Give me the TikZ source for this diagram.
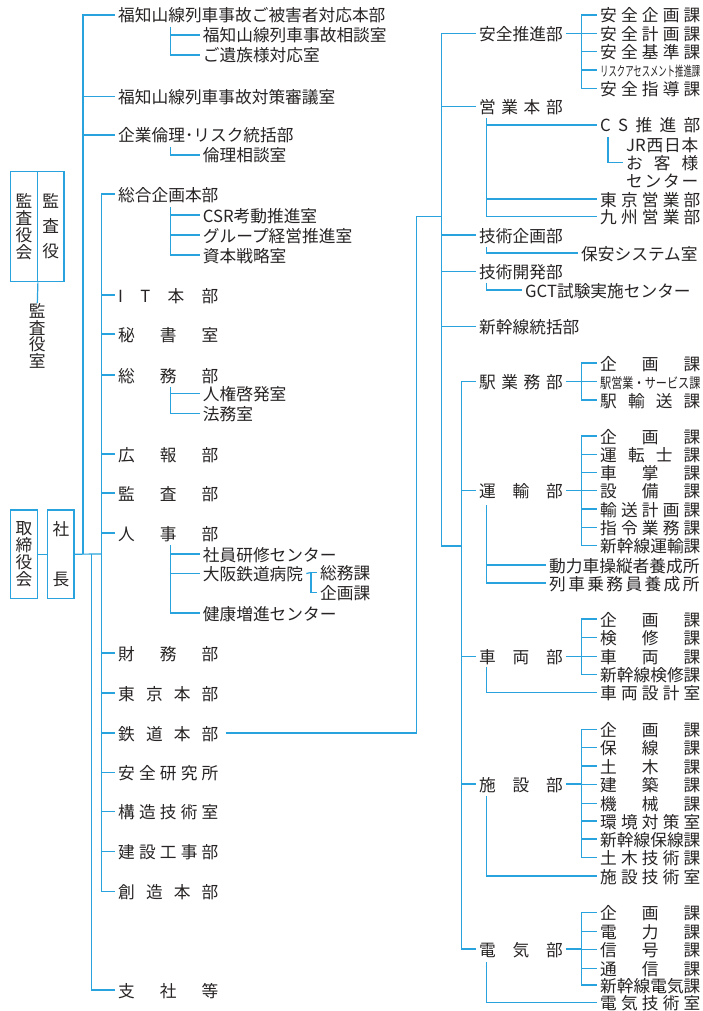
\documentclass[tikz,border=0pt]{standalone}
\usepackage{fontspec}
\usepackage{graphicx}
\newfontfamily\jp{Noto Sans CJK JP}
\definecolor{lc}{RGB}{40,163,222}
\definecolor{tc}{RGB}{40,36,36}
\newcommand{\jpf}{\jp\fontsize{16.7}{18}\selectfont}
\newcommand{\spr}[2]{\makebox[#1][s]{#2}}
\begin{document}
\begin{tikzpicture}[x=1pt,y=-1pt,
 ln/.style={draw=lc,line width=1.2pt},
 tx/.style={anchor=west,inner xsep=3pt,inner ysep=0pt,text=tc,font=\jpf,text height=15pt,text depth=1pt},
 vb/.style={draw=lc,line width=1.2pt,inner sep=0pt,text=tc,align=center}]
\fill[white] (0,0) rectangle (702,1011);
\useasboundingbox (0,0) rectangle (702,1011);

% ---------- left boxes ----------
\node[vb,minimum width=26.6pt,minimum height=110pt,font=\jp\fontsize{16.7}{17}\selectfont] (kL) at (24,226.7) {監\\査\\役\\会};
\node[vb,minimum width=26.7pt,minimum height=110pt,font=\jp\fontsize{16.7}{25}\selectfont] (kR) at (50.65,226.7) {監\\査\\役};
\node[vb,draw=none,font=\jp\fontsize{16.7}{16.5}\selectfont] (ksh) at (37.3,336) {監\\査\\役\\室};
\draw[ln] (kL.south east) -- (ksh.north);
\node[vb,minimum width=26.6pt,minimum height=88.3pt,font=\jp\fontsize{16.7}{17}\selectfont] (tori) at (24,554.2) {取\\締\\役\\会};
\node[vb,minimum width=26.3pt,minimum height=88.3pt,font=\jp\fontsize{16.7}{50}\selectfont] (sha) at (60.85,554.2) {社\\長};
\draw[ln] (tori.east) -- (sha.west);

% ---------- left trunk ----------
\coordinate (J0) at (83,554);
\coordinate (J2) at (91.7,554);
\coordinate (J1) at (101.7,554);
\draw[ln] (sha.east) -- (J1);

% top group
\node[tx] (fk) at (115,15) {福知山線列車事故ご被害者対応本部};
\node[tx] (fk1) at (199.7,35) {福知山線列車事故相談室};
\node[tx] (fk2) at (199.7,55) {ご遺族様対応室};
\node[tx] (fs) at (115,96.5) {福知山線列車事故対策審議室};
\node[tx] (kr) at (115,135) {企業倫理･リスク統括部};
\node[tx] (kr1) at (199.7,155) {倫理相談室};
\coordinate (fkS) at (170.7,27);
\coordinate (krS) at (170.7,147);
\foreach \n in {fk,fs,kr} \draw[ln] (J0) |- (\n.west);
\foreach \n in {fk1,fk2} \draw[ln] (fkS) |- (\n.west);
\draw[ln] (krS) |- (kr1.west);

% main departments
\node[tx] (sk) at (115,194) {総合企画本部};
\node[tx] (sk1) at (199.7,215) {CSR考動推進室};
\node[tx] (sk2) at (199.7,235) {グループ経営推進室};
\node[tx] (sk3) at (199.7,255) {資本戦略室};
\node[tx] (it) at (115,295) {\spr{6em}{I\hfill T\hfill 本\hfill 部}};
\node[tx] (hs) at (115,334) {\spr{6em}{秘\hfill 書\hfill 室}};
\node[tx] (sm) at (115,375) {\spr{6em}{総\hfill 務\hfill 部}};
\node[tx] (sm1) at (199.7,393.5) {人権啓発室};
\node[tx] (sm2) at (199.7,413.5) {法務室};
\node[tx] (kh) at (115,454) {\spr{6em}{広\hfill 報\hfill 部}};
\node[tx] (ks) at (115,493) {\spr{6em}{監\hfill 査\hfill 部}};
\node[tx] (jj) at (115,533) {\spr{6em}{人\hfill 事\hfill 部}};
\node[tx] (jj1) at (199.7,554) {社員研修センター};
\node[tx] (jj2) at (199.7,573.5) {大阪鉄道病院};
\node[tx] (jj3) at (199.7,613) {健康増進センター};
\node[tx] (bh1) at (317,572.5) {総務課};
\node[tx] (bh2) at (317,592.5) {企画課};
\node[tx] (zm) at (115,653) {\spr{6em}{財\hfill 務\hfill 部}};
\node[tx] (tk) at (115,693) {\spr{6em}{東\hfill 京\hfill 本\hfill 部}};
\node[tx] (td) at (115,733) {\spr{6em}{鉄\hfill 道\hfill 本\hfill 部}};
\node[tx] (ak) at (115,772.3) {\spr{6em}{安\hfill 全\hfill 研\hfill 究\hfill 所}};
\node[tx] (kz) at (115,811.7) {\spr{6em}{構\hfill 造\hfill 技\hfill 術\hfill 室}};
\node[tx] (kk) at (115,851.7) {\spr{6em}{建\hfill 設\hfill 工\hfill 事\hfill 部}};
\node[tx] (sz) at (115,891.7) {\spr{6em}{創\hfill 造\hfill 本\hfill 部}};
\node[tx] (ss) at (115,990) {\spr{6em}{支\hfill 社\hfill 等}};

\foreach \n in {sk,it,hs,sm,kh,ks,jj,zm,tk,td,ak,kz,kk,sz} \draw[ln] (J1) |- (\n.west);
\draw[ln] (J2) |- (ss.west);
\coordinate (skS) at (170.7,207);
\coordinate (smS) at (170.7,387);
\coordinate (jjS) at (170.7,545);
\coordinate (bhS) at (311,572.5);
\foreach \n in {sk1,sk2,sk3} \draw[ln] (skS) |- (\n.west);
\foreach \n in {sm1,sm2} \draw[ln] (smS) |- (\n.west);
\foreach \n in {jj1,jj2,jj3} \draw[ln] (jjS) |- (\n.west);
\draw[ln] (jj2.east) -- (bhS);
\foreach \n in {bh1,bh2} \draw[ln] (bhS) |- (\n.west);

% ---------- right side ----------
\coordinate (R0) at (416.7,733);
\coordinate (R1) at (416.7,216.7);
\coordinate (R2) at (441.7,216.7);
\coordinate (R3) at (441.7,546);
\coordinate (R4) at (461.7,546);
\draw[ln,shorten <=4pt] (td.east) -- (R0) -- (R1) -- (R2);

\node[tx] (az) at (476,33.3) {安全推進部};
\node[tx] (eg) at (476,106.7) {\spr{5em}{営\hfill 業\hfill 本\hfill 部}};
\node[tx] (gk) at (476,235) {技術企画部};
\node[tx] (gh) at (476,271.7) {技術開発部};
\node[tx] (sh) at (476,326.7) {新幹線統括部};
\node[tx] (ek) at (476,381.7) {\spr{5em}{駅\hfill 業\hfill 務\hfill 部}};
\node[tx] (un) at (476,490.7) {\spr{5em}{運\hfill 輸\hfill 部}};
\node[tx] (sr) at (476,656.5) {\spr{5em}{車\hfill 両\hfill 部}};
\node[tx] (st) at (476,784) {\spr{5em}{施\hfill 設\hfill 部}};
\node[tx] (dk) at (476,949) {\spr{5em}{電\hfill 気\hfill 部}};
\foreach \n in {az,eg,gk,gh,sh} \draw[ln] (R2) |- (\n.west);
\draw[ln] (R2) -- (R3) -- (R4);
\foreach \n in {ek,un,sr,st,dk} \draw[ln] (R4) |- (\n.west);

% 安全推進部
\node[tx] (a1) at (597,15) {\spr{6em}{安\hfill 全\hfill 企\hfill 画\hfill 課}};
\node[tx] (a2) at (597,33.3) {\spr{6em}{安\hfill 全\hfill 計\hfill 画\hfill 課}};
\node[tx] (a3) at (597,51.7) {\spr{6em}{安\hfill 全\hfill 基\hfill 準\hfill 課}};
\node[tx] (a4) at (597,70) {\scalebox{0.5}[0.82]{リスクアセスメント推進課}};
\node[tx] (a5) at (597,88.3) {\spr{6em}{安\hfill 全\hfill 指\hfill 導\hfill 課}};
\coordinate (azJ) at (581.7,33.3);
\draw[ln] (az.east) -- (azJ);
\foreach \n in {a1,a2,a3,a4,a5} \draw[ln] (azJ) |- (\n.west);

% 営業本部
\node[tx] (cs) at (597,125) {\spr{6em}{C\hfill S\hfill 推\hfill 進\hfill 部}};
\node[tx] (jr) at (623,145) {\spr{72pt}{JR\hfill 西\hfill 日\hfill 本}};
\node[tx] (ok) at (623,162.5) {\spr{72pt}{お\hfill 客\hfill 様}};
\node[tx] (ce) at (623,180) {\spr{72pt}{セ\hfill ン\hfill タ\hfill ー}};
\node[tx] (tky) at (597,199) {\spr{6em}{東\hfill 京\hfill 営\hfill 業\hfill 部}};
\node[tx] (kyu) at (597,216.7) {\spr{6em}{九\hfill 州\hfill 営\hfill 業\hfill 部}};
\coordinate (egS) at (486.7,118);
\coordinate (csS) at (608,137);
\foreach \n in {cs,tky,kyu} \draw[ln] (egS) |- (\n.west);
\draw[ln] (csS) |- (ok.west);

% 技術企画部・技術開発部
\node[tx] (ha) at (578,253) {保安システム室};
\node[tx] (gct) at (522,290) {GCT試験実施センター};
\coordinate (gkS) at (486.7,247);
\coordinate (ghS) at (486.7,283);
\draw[ln] (gkS) |- (ha.west);
\draw[ln] (ghS) |- (gct.west);

% 駅業務部
\node[tx] (e1) at (597,363) {\spr{6em}{企\hfill 画\hfill 課}};
\node[tx] (e2) at (597,381.7) {\scalebox{0.667}[0.85]{駅営業・サービス課}};
\node[tx] (e3) at (597,400) {\spr{6em}{駅\hfill 輸\hfill 送\hfill 課}};
\coordinate (ekJ) at (581.7,381.7);
\draw[ln] (ek.east) -- (ekJ);
\foreach \n in {e1,e2,e3} \draw[ln] (ekJ) |- (\n.west);

% 運輸部
\node[tx] (u1) at (597,436) {\spr{6em}{企\hfill 画\hfill 課}};
\node[tx] (u2) at (597,454.3) {\spr{6em}{運\hfill 転\hfill 士\hfill 課}};
\node[tx] (u3) at (597,472.7) {\spr{6em}{車\hfill 掌\hfill 課}};
\node[tx] (u4) at (597,490.7) {\spr{6em}{設\hfill 備\hfill 課}};
\node[tx] (u5) at (597,509) {\spr{6em}{輸\hfill 送\hfill 計\hfill 画\hfill 課}};
\node[tx] (u6) at (597,527.3) {\spr{6em}{指\hfill 令\hfill 業\hfill 務\hfill 課}};
\node[tx] (u7) at (597,545.7) {新幹線運輸課};
\node[tx] (u8) at (546,565) {動力車操縦者養成所};
\node[tx] (u9) at (546,583) {\spr{9em}{列\hfill 車\hfill 乗\hfill 務\hfill 員\hfill 養\hfill 成\hfill 所}};
\coordinate (unJ) at (581.7,490.7);
\coordinate (unS) at (486.7,505);
\draw[ln] (un.east) -- (unJ);
\foreach \n in {u1,u2,u3,u4,u5,u6,u7} \draw[ln] (unJ) |- (\n.west);
\foreach \n in {u8,u9} \draw[ln] (unS) |- (\n.west);

% 車両部
\node[tx] (r1) at (597,619) {\spr{6em}{企\hfill 画\hfill 課}};
\node[tx] (r2) at (597,637.7) {\spr{6em}{検\hfill 修\hfill 課}};
\node[tx] (r3) at (597,656.5) {\spr{6em}{車\hfill 両\hfill 課}};
\node[tx] (r4) at (597,674.7) {新幹線検修課};
\node[tx] (r5) at (597,692.7) {\spr{6em}{車\hfill 両\hfill 設\hfill 計\hfill 室}};
\coordinate (srJ) at (581.7,656.5);
\coordinate (srS) at (486.7,667);
\draw[ln] (sr.east) -- (srJ);
\foreach \n in {r1,r2,r3,r4} \draw[ln] (srJ) |- (\n.west);
\draw[ln] (srS) |- (r5.west);

% 施設部
\node[tx] (s1) at (597,729.3) {\spr{6em}{企\hfill 画\hfill 課}};
\node[tx] (s2) at (597,747.7) {\spr{6em}{保\hfill 線\hfill 課}};
\node[tx] (s3) at (597,766) {\spr{6em}{土\hfill 木\hfill 課}};
\node[tx] (s4) at (597,784.3) {\spr{6em}{建\hfill 築\hfill 課}};
\node[tx] (s5) at (597,803.3) {\spr{6em}{機\hfill 械\hfill 課}};
\node[tx] (s6) at (597,821) {\spr{6em}{環\hfill 境\hfill 対\hfill 策\hfill 室}};
\node[tx] (s7) at (597,839) {新幹線保線課};
\node[tx] (s8) at (597,857.7) {\spr{6em}{土\hfill 木\hfill 技\hfill 術\hfill 課}};
\node[tx] (s9) at (597,876) {\spr{6em}{施\hfill 設\hfill 技\hfill 術\hfill 室}};
\coordinate (stJ) at (581.7,784);
\coordinate (stS) at (486.7,796);
\draw[ln] (st.east) -- (stJ);
\foreach \n in {s1,s2,s3,s4,s5,s6,s7,s8} \draw[ln] (stJ) |- (\n.west);
\draw[ln] (stS) |- (s9.west);

% 電気部
\node[tx] (d1) at (597,912.7) {\spr{6em}{企\hfill 画\hfill 課}};
\node[tx] (d2) at (597,931.3) {\spr{6em}{電\hfill 力\hfill 課}};
\node[tx] (d3) at (597,949.3) {\spr{6em}{信\hfill 号\hfill 課}};
\node[tx] (d4) at (597,968.3) {\spr{6em}{通\hfill 信\hfill 課}};
\node[tx] (d5) at (597,985) {新幹線電気課};
\node[tx] (d6) at (597,1002.5) {\spr{6em}{電\hfill 気\hfill 技\hfill 術\hfill 室}};
\coordinate (dkJ) at (581.7,949);
\coordinate (dkS) at (486.7,962);
\draw[ln] (dk.east) -- (dkJ);
\foreach \n in {d1,d2,d3,d4,d5} \draw[ln] (dkJ) |- (\n.west);
\draw[ln] (dkS) |- (d6.west);
\end{tikzpicture}
\end{document}
